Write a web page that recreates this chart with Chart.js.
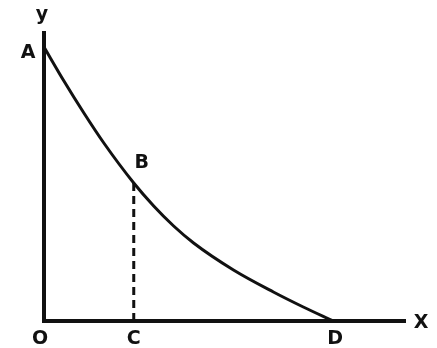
<!DOCTYPE html>
<html>
<head>
<meta charset="utf-8">
<script src="https://cdn.jsdelivr.net/npm/chart.js@4.4.1/dist/chart.umd.min.js"></script>
<style>
  html, body { margin: 0; padding: 0; background: #fff; }
  #wrap { width: 437px; height: 348px; }
</style>
</head>
<body>
<div id="wrap"><canvas id="myChart"></canvas></div>
<script>
// curve A -> B -> D (x pos, height)
const curveX = [0, 20, 40, 60, 90, 110, 130, 150, 190, 230, 260, 290];
const curveY = [274, 240, 208, 178, 138, 115, 95, 78, 51, 29, 14, 0];

// dashed ordinate B -> C
const ordX = [90, 90];
const ordY = [0, 138];

// point names and where they sit
const labelNames = ["y", "A", "B", "O", "C", "D", "X"];
const labelX = [0, 0, 90, 0, 90, 290, 362];
const labelY = [288, 274, 138, 0, 0, 0, 0];
const labelDx = [-2, -16, 8, -4, 0, 2, 16];
const labelDy = [-18, 6, -20, 18, 18, 18, 2];

const xMax = 362;
const yMax = 288;

// puts the letters next to the points
const letters = {
  id: "letters",
  afterDatasetsDraw(chart) {
    const ctx = chart.ctx;
    const xs = chart.scales.x;
    const ys = chart.scales.y;
    ctx.save();
    ctx.fillStyle = "#111";
    ctx.font = "bold 19px 'DejaVu Sans'";
    ctx.textAlign = "center";
    ctx.textBaseline = "middle";
    for (let i = 0; i < labelNames.length; i++) {
      ctx.fillText(labelNames[i], xs.getPixelForValue(labelX[i]) + labelDx[i], ys.getPixelForValue(labelY[i]) + labelDy[i]);
    }
    ctx.restore();
  }
};

new Chart("myChart", {
  type: "line",
  data: {
    datasets: [{
      data: curveX.map((x, i) => ({x: x, y: curveY[i]})),
      borderColor: "#111",
      borderWidth: 3,
      pointRadius: 0,
      cubicInterpolationMode: "monotone"
    }, {
      data: ordX.map((x, i) => ({x: x, y: ordY[i]})),
      borderColor: "#111",
      borderWidth: 3,
      borderDash: [8, 5],
      pointRadius: 0
    }]
  },
  options: {
    responsive: true,
    maintainAspectRatio: false,
    animation: false,
    layout: {padding: {left: 36, right: 32, top: 33, bottom: 19}},
    plugins: {legend: {display: false}, tooltip: {enabled: false}},
    scales: {
      x: {
        type: "linear", min: 0, max: xMax,
        ticks: {display: false},
        grid: {display: false},
        border: {display: true, color: "#111", width: 4}
      },
      y: {
        min: 0, max: yMax,
        ticks: {display: false},
        grid: {display: false},
        border: {display: true, color: "#111", width: 4}
      }
    }
  },
  plugins: [letters]
});
</script>
</body>
</html>
